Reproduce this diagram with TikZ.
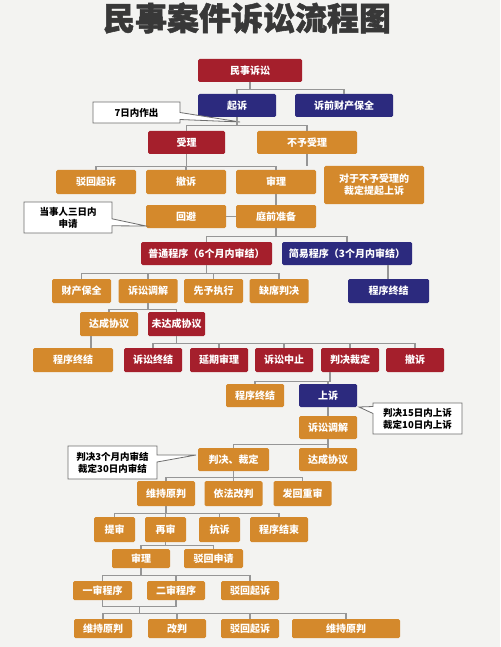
\documentclass[tikz,border=0pt]{standalone}
\usepackage{fontspec}
\setmainfont{Noto Sans CJK SC}
\newfontfamily\titlefont{Noto Sans CJK SC}[FakeBold=1.6]
\usetikzlibrary{calc,shapes.callouts}
\definecolor{boxred}{HTML}{A51F2C}
\definecolor{boxnavy}{HTML}{2C2A7E}
\definecolor{boxorange}{HTML}{D4892C}
\definecolor{linkgray}{HTML}{969696}
\definecolor{notegray}{HTML}{6E6E6E}
\definecolor{bggray}{HTML}{F3F3F1}
\definecolor{titlegray}{HTML}{383838}
\def\branch#1#2#3{\foreach \c in {#3}{\draw[link] (#1.south) -- ++(0,#2) -| (\c.north);}}

\begin{document}
\begin{tikzpicture}[x=1pt,y=-1pt,
	box/.style={rectangle, rounded corners=1.5pt, text=white, inner sep=1pt,
		font=\bfseries\fontsize{10}{12}\selectfont, minimum height=24pt, minimum width=58pt},
	redbox/.style={box, fill=boxred},
	navybox/.style={box, fill=boxnavy},
	orangebox/.style={box, fill=boxorange},
	link/.style={draw=linkgray, line width=1.2pt},
	note/.style={rectangle callout, fill=white, draw=notegray, line width=0.8pt,
		callout pointer width=7pt, align=center, inner sep=2pt,
		font=\bfseries\fontsize{9.5}{12}\selectfont}]
		%%%%% START %%%%%
		
		\fill[bggray] (0,0) rectangle (500,647);
		\useasboundingbox (0,0) rectangle (500,647);
		
		\node[text=titlegray, font=\titlefont\bfseries\fontsize{32}{34}\selectfont] (title) at (247,18) {民事案件诉讼流程图};
		
		% top
		\node[redbox, minimum width=104pt, minimum height=23pt] (ms) at (250,70.5) {民事诉讼};
		\node[navybox, minimum width=78pt, minimum height=23pt] (qs) at (237,105.5) {起诉};
		\node[navybox, minimum width=98pt, minimum height=23pt] (sqbq) at (344,105.5) {诉前财产保全};
		\node[note, minimum width=87pt, minimum height=21pt, callout absolute pointer={(240,122)}] (n7r) at (136.5,112.5) {7日内作出};
		
		\node[redbox, minimum width=77pt, minimum height=23pt] (sl) at (186.5,142.5) {受理};
		\node[orangebox, minimum width=100pt, minimum height=23pt] (byl) at (307,142.5) {不予受理};
		
		\node[orangebox, minimum width=80pt] (bhqs) at (96,182) {驳回起诉};
		\node[orangebox, minimum width=80pt] (cs) at (186,182) {撤诉};
		\node[orangebox, minimum width=80pt] (shl) at (276,182) {审理};
		\node[orangebox, minimum width=100pt, minimum height=38pt, align=center] (dybyl) at (374,185) {对于不予受理的\\裁定提起上诉};
		\node[orangebox, minimum width=80pt, minimum height=23pt] (hb) at (186,216.5) {回避};
		\node[orangebox, minimum width=80pt, minimum height=23pt] (tqzb) at (276,216.5) {庭前准备};
		\node[note, minimum width=88pt, minimum height=31pt, callout absolute pointer={(146,226)}] (nsdr) at (68,217.5) {当事人三日内\\申请};
		
		% programs
		\node[redbox, minimum width=131pt, minimum height=23pt] (ptcx) at (206.5,253.5) {普通程序（6个月内审结）};
		\node[navybox, minimum width=130pt, minimum height=23pt] (jycx) at (347,253.5) {简易程序（3个月内审结）};
		\node[navybox, minimum width=81pt] (cxzja) at (388.5,291) {程序终结};
		
		\node[orangebox, minimum width=59pt] (ccbq) at (81.5,291) {财产保全};
		\node[orangebox, minimum width=59pt] (ssdja) at (148,291) {诉讼调解};
		\node[orangebox, minimum width=59pt] (xyzx) at (213.5,291) {先予执行};
		\node[orangebox, minimum width=59pt] (qxpj) at (279,291) {缺席判决};
		
		\node[orangebox] (dcxya) at (109,324) {达成协议};
		\node[redbox, minimum width=57pt] (wdcxy) at (176.5,324) {未达成协议};
		\node[orangebox, minimum width=80pt] (cxzjb) at (73,360) {程序终结};
		
		\node[redbox] (sszj) at (153,360) {诉讼终结};
		\node[redbox] (yqsl) at (219,360) {延期审理};
		\node[redbox] (sszz) at (284,360) {诉讼中止};
		\node[redbox] (pjcd) at (350,360) {判决裁定};
		\node[redbox] (csb) at (415,360) {撤诉};
		
		% appeal
		\node[orangebox, minimum height=23pt] (cxzjc) at (255,395.5) {程序终结};
		\node[navybox, minimum height=23pt] (ss) at (328,395.5) {上诉};
		\node[note, minimum width=89pt, minimum height=31pt, callout absolute pointer={(359,407)}] (nss) at (417.5,418.5) {判决15日内上诉\\裁定10日内上诉};
		\node[orangebox, minimum height=23pt] (ssdjb) at (328,427.5) {诉讼调解};
		\node[orangebox, minimum width=71pt, minimum height=23pt] (pjcdb) at (233.5,459.5) {判决、裁定};
		\node[orangebox, minimum height=23pt] (dcxyb) at (328,459.5) {达成协议};
		\node[note, minimum width=89pt, minimum height=33pt, callout absolute pointer={(196,455)}] (nsj) at (112.5,462.5) {判决3个月内审结\\裁定30日内审结};
		
		\node[orangebox, minimum height=25pt] (wcypa) at (166,493.5) {维持原判};
		\node[orangebox, minimum height=25pt] (yfgp) at (233.5,493.5) {依法改判};
		\node[orangebox, minimum height=25pt] (fhcs) at (302.5,493.5) {发回重审};
		
		% retrial
		\node[orangebox, minimum width=41pt, minimum height=25pt] (ts) at (114.5,529.5) {提审};
		\node[orangebox, minimum width=41pt, minimum height=25pt] (zs) at (165.5,529.5) {再审};
		\node[orangebox, minimum width=41pt, minimum height=25pt] (ks) at (219.5,529.5) {抗诉};
		\node[orangebox, minimum height=25pt] (cxjs) at (279,529.5) {程序结束};
		
		\node[orangebox, minimum height=19pt] (shlb) at (141,558.5) {审理};
		\node[orangebox, minimum width=59pt, minimum height=19pt] (bhsq) at (213.5,558.5) {驳回申请};
		
		\node[orangebox, minimum width=59pt, minimum height=19pt] (yscx) at (102.5,590.5) {一审程序};
		\node[orangebox, minimum height=19pt] (escx) at (176,590.5) {二审程序};
		\node[orangebox, minimum height=19pt] (bhqsb) at (250,590.5) {驳回起诉};
		
		\node[orangebox, minimum height=19pt] (wcypb) at (103,628.5) {维持原判};
		\node[orangebox, minimum height=19pt] (gp) at (177,628.5) {改判};
		\node[orangebox, minimum height=19pt] (bhqsc) at (250,628.5) {驳回起诉};
		\node[orangebox, minimum width=108pt, minimum height=19pt] (wcypc) at (346,628.5) {维持原判};
		
		% connectors
		\branch{ms}{7}{qs,sqbq}
		\branch{qs}{8}{sl,byl}
		\branch{sl}{12}{bhqs,cs,shl}
		\draw[link] (byl.south) -- (byl.south |- dybyl.north);
		\draw[link] (shl.south) -- (tqzb.north);
		\draw[link] (tqzb.west) -- (hb.east);
		\branch{tqzb}{8}{ptcx,jycx}
		\draw[link] (jycx.south) ++(41,0) coordinate (jyd) -- (jyd |- cxzja.north);
		\branch{ptcx}{8}{ccbq,ssdja,xyzx,qxpj}
		\branch{ssdja}{6}{dcxya,wdcxy}
		\draw[link] ([xshift=-18pt]dcxya.south) coordinate (dcd) -- (dcd |- cxzjb.north);
		\branch{wdcxy}{7}{sszj,yqsl,sszz,pjcd,csb}
		\foreach \c in {cxzjc,ss}{\draw[link] ([xshift=-20pt]pjcd.south) -- ++(0,9) -| (\c.north);}
		\draw[link] (ss.south) -- (ssdjb.north);
		\branch{ssdjb}{5}{pjcdb,dcxyb}
		\branch{pjcdb}{6}{wcypa,yfgp,fhcs}
		\branch{wcypa}{7}{ts,zs,ks,cxjs}
		\branch{zs}{3}{shlb,bhsq}
		\branch{shlb}{7}{yscx,escx,bhqsb}
		\draw[link] (yscx.south) -- ++(0,6) -| (escx.south);
		\coordinate (mg) at ($(yscx.south)!0.5!(escx.south)+(0,6)$);
		\foreach \c in {wcypb,gp,bhqsc,wcypc}{\draw[link] (mg) -- ++(0,7) -| (\c.north);}
		
		%%%%% END %%%%%
	\end{tikzpicture}
\end{document}
